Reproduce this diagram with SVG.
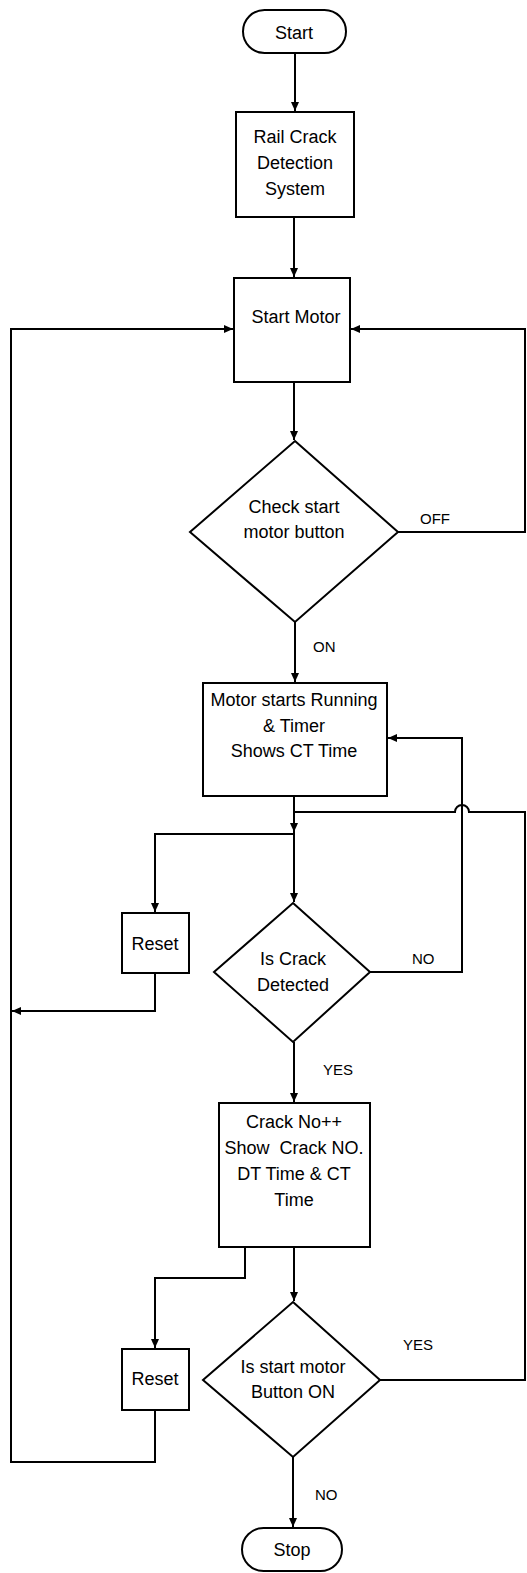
<svg xmlns="http://www.w3.org/2000/svg" width="527" height="1573" viewBox="0 0 527 1573">
<defs>
<marker id="ah" markerUnits="userSpaceOnUse" markerWidth="9" markerHeight="8" refX="9" refY="4" orient="auto">
<path d="M0,0 L9,4 L0,8 z" fill="#000"/>
</marker>
<style>
.n{fill:#fff;stroke:#000;stroke-width:2}
.t{font-family:"Liberation Sans",Arial,sans-serif;font-size:18px;fill:#000;text-anchor:middle}
.l{font-family:"Liberation Sans",Arial,sans-serif;font-size:15px;fill:#000}
.c{fill:none;stroke:#000;stroke-width:2}
.a{marker-end:url(#ah)}
</style>
</defs>
<rect width="527" height="1573" fill="#fff"/>
<g id="connectors">
<path class="c a" d="M295,53 V111"/>
<path class="c a" d="M294,217 V277"/>
<path class="c a" d="M294,382 V440"/>
<path class="c a" d="M295,622 V682"/>
<path class="c a" d="M398,532 H525 V329 H351"/>
<path class="c a" d="M294,796 V832"/>
<path class="c" d="M294,812 H455 A7,7 0 0 1 469,812 H525 V1380 H380"/>
<path class="c a" d="M294,834 H155 V912"/>
<path class="c a" d="M294,832 V902"/>
<path class="c a" d="M155,973 V1011 H12"/>
<path class="c a" d="M370,972 H462 V738 H388"/>
<path class="c a" d="M294,1042 V1102"/>
<path class="c a" d="M245,1247 V1278 H155 V1348"/>
<path class="c a" d="M294,1247 V1301"/>
<path class="c a" d="M155,1410 V1462 H11 V329 H233"/>
<path class="c a" d="M293,1457 V1527"/>
</g>
<g id="start">
<rect class="n" x="243" y="10" width="103" height="43" rx="21.5"/>
<text class="t" x="294" y="39">Start</text>
</g>
<g id="rail">
<rect class="n" x="236" y="112" width="118" height="105"/>
<text class="t" x="295" y="143">Rail Crack</text>
<text class="t" x="295" y="169">Detection</text>
<text class="t" x="295" y="195">System</text>
</g>
<g id="startmotor">
<rect class="n" x="234" y="278" width="116" height="104"/>
<text class="t" x="296" y="323">Start Motor</text>
</g>
<g id="check">
<path class="n" d="M295,441 L398,532 L295,622 L190,532 Z"/>
<text class="t" x="294" y="513">Check start</text>
<text class="t" x="294" y="538">motor button</text>
<text class="l" x="420" y="524">OFF</text>
<text class="l" x="313" y="652">ON</text>
</g>
<g id="running">
<rect class="n" x="203" y="683" width="184" height="113"/>
<text class="t" x="294" y="706">Motor starts Running</text>
<text class="t" x="294" y="732">&amp; Timer</text>
<text class="t" x="294" y="757">Shows CT Time</text>
</g>
<g id="reset1">
<rect class="n" x="122" y="913" width="67" height="60"/>
<text class="t" x="155" y="950">Reset</text>
</g>
<g id="crackq">
<path class="n" d="M293,903 L370,972 L293,1042 L214,972 Z"/>
<text class="t" x="293" y="965">Is Crack</text>
<text class="t" x="293" y="991">Detected</text>
<text class="l" x="412" y="964">NO</text>
<text class="l" x="323" y="1075">YES</text>
</g>
<g id="crackno">
<rect class="n" x="219" y="1103" width="151" height="144"/>
<text class="t" x="294" y="1128">Crack No++</text>
<text class="t" x="294" y="1154" style="white-space:pre">Show  Crack NO.</text>
<text class="t" x="294" y="1180">DT Time &amp; CT</text>
<text class="t" x="294" y="1206">Time</text>
</g>
<g id="reset2">
<rect class="n" x="122" y="1349" width="67" height="61"/>
<text class="t" x="155" y="1385">Reset</text>
</g>
<g id="buttonq">
<path class="n" d="M293,1302 L380,1380 L293,1457 L203,1380 Z"/>
<text class="t" x="293" y="1373">Is start motor</text>
<text class="t" x="293" y="1398">Button ON</text>
<text class="l" x="403" y="1350">YES</text>
<text class="l" x="315" y="1500">NO</text>
</g>
<g id="stop">
<rect class="n" x="242" y="1528" width="100" height="43" rx="21.5"/>
<text class="t" x="292" y="1556">Stop</text>
</g>
</svg>
